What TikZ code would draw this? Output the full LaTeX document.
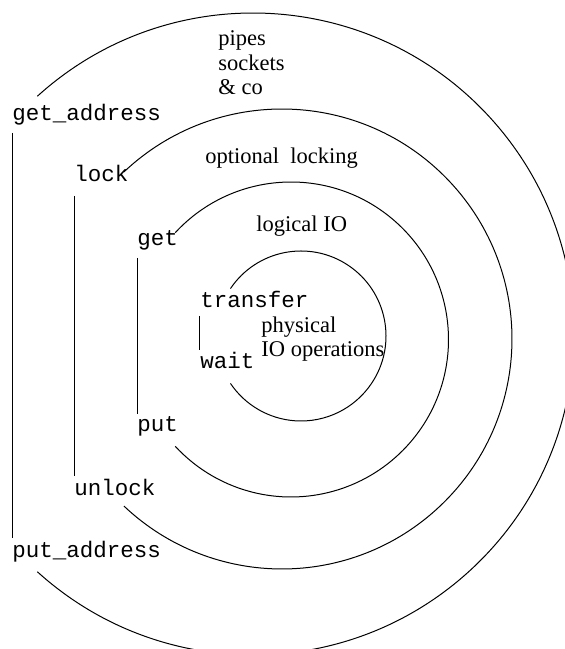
\documentclass[tikz,border=0pt]{standalone}
\usepackage{fontspec}
\setmainfont{Liberation Serif}
\setmonofont{Liberation Mono}
\begin{document}
% one unit = 0.5pt; y runs upward
\begin{tikzpicture}[x=0.5pt,y=0.5pt,
  layer/.style={line width=0.5pt},
  call/.style={anchor=base west,inner sep=0pt,font=\ttfamily\fontsize{11.25}{12.25}\selectfont},
  note/.style={anchor=base west,inner sep=0pt,align=left,font=\fontsize{11.25}{12.4}\selectfont}]
\useasboundingbox (0,0) rectangle (565,649);
\clip (0,0) rectangle (565,649);

% centres of the four layers
\coordinate (c1) at (301,313);
\coordinate (c2) at (291,309.5);
\coordinate (c3) at (282,310);
\coordinate (c4) at (253,315);

% operation names
\node[call] (ga)   at (12,528) {get\_address};
\node[call] (lk)   at (74,467) {lock};
\node[call] (gt)   at (137,403) {get};
\node[call] (tr)   at (200,341) {transfer};
\node[call] (wt)   at (200,280) {wait};
\node[call] (pt)   at (137,217) {put};
\node[call] (ul)   at (74,153) {unlock};
\node[call] (pa)   at (12,91) {put\_address};

% layer descriptions (base anchor = last line)
\node[note] (pipes) at (218,554) {pipes\\sockets\\\& co};
\node[note] (optl)  at (205,485) {optional\ \ locking};
\node[note] (logio) at (256,417) {logical IO};
\node[note] (phys)  at (261,292) {physical\\IO operations};

% pairing brackets
\draw[layer] ([yshift=-6pt]ga.base west) -- ([yshift=10pt]pa.base west);
\draw[layer] ([yshift=-7pt]lk.base west) -- ([yshift=10pt]ul.base west);
\draw[layer] ([yshift=-6pt]gt.base west) -- ([yshift=9pt]pt.base west);
\draw[layer] ([xshift=-0.5pt,yshift=-4pt]tr.base west) -- ([xshift=-0.5pt,yshift=9.5pt]wt.base west);

% the layers, open towards the names
\draw[layer] (c1) ++(146.1:42.5pt) arc[start angle=146.1,end angle=-146.1,radius=42.5pt];
\draw[layer] (c2) ++(137.3:78.75pt) arc[start angle=137.3,end angle=-137.3,radius=78.75pt];
\draw[layer] (c3) ++(133.4:115pt) arc[start angle=133.4,end angle=-133.4,radius=115pt];
\draw[layer] (c4) ++(132.2:160.5pt) arc[start angle=132.2,end angle=-132.2,radius=160.5pt];
\end{tikzpicture}
\end{document}
